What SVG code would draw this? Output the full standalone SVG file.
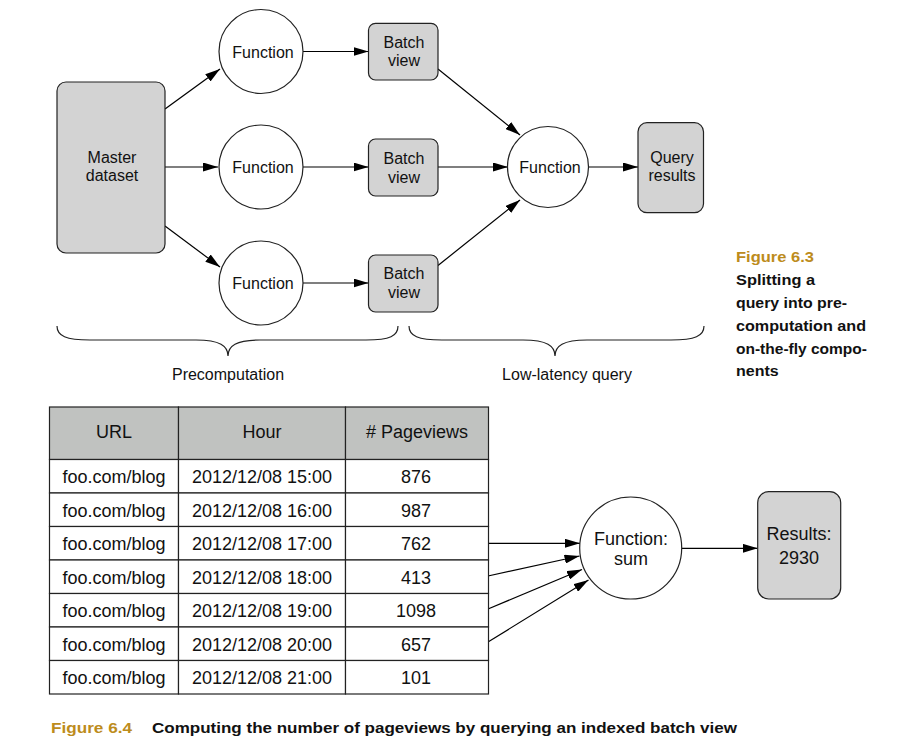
<svg xmlns="http://www.w3.org/2000/svg" width="912" height="751" viewBox="0 0 912 751">
<defs>
<marker id="arr" markerWidth="15" markerHeight="9" refX="15" refY="4.5" orient="auto" markerUnits="userSpaceOnUse">
<path d="M0,0 L15,4.5 L0,9 z" fill="#000"/>
</marker>
<style>
.box{fill:#d3d3d3;stroke:#222;stroke-width:1.2}
.circ{fill:#fff;stroke:#222;stroke-width:1.2}
.t{font-family:"Liberation Sans",Arial,sans-serif;font-size:16px;fill:#111;text-anchor:middle}
.t18{font-family:"Liberation Sans",Arial,sans-serif;font-size:18px;fill:#111;text-anchor:middle}
.edge{stroke:#000;stroke-width:1.2;fill:none;marker-end:url(#arr)}
.brace{stroke:#222;stroke-width:1.2;fill:none}
.cap{font-family:"Liberation Sans",Arial,sans-serif;font-size:15px;font-weight:bold;fill:#111}
.gold{fill:#bd8c1c}
.cell{fill:#fff;stroke:#222;stroke-width:1.2}
.hdr{fill:#c0c2c0;stroke:#222;stroke-width:1.2}
</style>
</defs>
<rect width="912" height="751" fill="#fff"/>

<g id="connectors">
<line class="edge" x1="165" y1="109" x2="220" y2="69"/>
<line class="edge" x1="165" y1="167" x2="218" y2="167"/>
<line class="edge" x1="165" y1="226" x2="220" y2="267"/>
<line class="edge" x1="303" y1="51.5" x2="368.5" y2="51.5"/>
<line class="edge" x1="302" y1="167" x2="368.5" y2="167"/>
<line class="edge" x1="303" y1="283" x2="368.5" y2="283"/>
<line class="edge" x1="438" y1="69" x2="520" y2="135"/>
<line class="edge" x1="438" y1="167" x2="508" y2="167"/>
<line class="edge" x1="438" y1="265.5" x2="520" y2="200"/>
<line class="edge" x1="588" y1="167" x2="638" y2="167"/>
<line class="edge" x1="488" y1="543.3" x2="580" y2="543.3"/>
<line class="edge" x1="488" y1="576" x2="579.5" y2="556"/>
<line class="edge" x1="488" y1="609" x2="582" y2="569.5"/>
<line class="edge" x1="488" y1="642" x2="588.5" y2="580"/>
<line class="edge" x1="681.5" y1="548.3" x2="757.7" y2="548.3"/>
</g>

<g id="master">
<rect class="box" x="57" y="82" width="108" height="171" rx="9"/>
<text class="t" x="112" y="163">Master</text>
<text class="t" x="112" y="181">dataset</text>
</g>

<g id="fn1"><circle class="circ" cx="261" cy="51.5" r="42"/><text class="t" x="263" y="57.5">Function</text></g>
<g id="fn2"><circle class="circ" cx="261" cy="167" r="42"/><text class="t" x="263" y="172.5">Function</text></g>
<g id="fn3"><circle class="circ" cx="261" cy="283" r="42"/><text class="t" x="263" y="289">Function</text></g>

<g id="bv1"><rect class="box" x="368.5" y="23.3" width="69.5" height="56.7" rx="7"/><text class="t" x="404" y="47.5">Batch</text><text class="t" x="404" y="65.5">view</text></g>
<g id="bv2"><rect class="box" x="368.5" y="139" width="69.5" height="57" rx="7"/><text class="t" x="404" y="164">Batch</text><text class="t" x="404" y="182.5">view</text></g>
<g id="bv3"><rect class="box" x="368.5" y="255" width="69.5" height="57" rx="7"/><text class="t" x="404" y="279">Batch</text><text class="t" x="404" y="297.5">view</text></g>

<g id="fnq"><circle class="circ" cx="548" cy="167" r="40.5"/><text class="t" x="550" y="172.5">Function</text></g>

<g id="query"><rect class="box" x="638" y="122.7" width="65.5" height="90" rx="9"/><text class="t" x="672" y="163">Query</text><text class="t" x="672" y="181">results</text></g>

<g id="braces">
<path class="brace" d="M57,326 C57,336 66,340 90,340 L196,340 C220,340 228,346 228,356 C228,346 236,340 260,340 L366,340 C390,340 398,336 398,326"/>
<path class="brace" d="M409,326 C409,336 418,340 442,340 L523,340 C547,340 555,346 555,356 C555,346 563,340 587,340 L671,340 C695,340 704,336 704,326"/>
<text class="t" x="228" y="380">Precomputation</text>
<text class="t" x="567" y="380">Low-latency query</text>
</g>

<g id="caption63">
<text class="cap gold" x="736" y="262" textLength="78" lengthAdjust="spacingAndGlyphs">Figure 6.3</text>
<text class="cap" x="736" y="285" textLength="79" lengthAdjust="spacingAndGlyphs">Splitting a</text>
<text class="cap" x="736" y="308" textLength="111" lengthAdjust="spacingAndGlyphs">query into pre-</text>
<text class="cap" x="736" y="331" textLength="130" lengthAdjust="spacingAndGlyphs">computation and</text>
<text class="cap" x="736" y="353.5" textLength="131" lengthAdjust="spacingAndGlyphs">on-the-fly compo-</text>
<text class="cap" x="736" y="376" textLength="42.7" lengthAdjust="spacingAndGlyphs">nents</text>
</g>

<g id="table">
<rect class="hdr" x="49.5" y="407" width="129" height="52.5"/>
<rect class="hdr" x="178.5" y="407" width="167" height="52.5"/>
<rect class="hdr" x="345.5" y="407" width="143" height="52.5"/>
<text class="t18" x="114" y="438">URL</text>
<text class="t18" x="262" y="438">Hour</text>
<text class="t18" x="417" y="438"># Pageviews</text>
<g id="rows">
<rect class="cell" x="49.5" y="459.5" width="129" height="33.5"/><rect class="cell" x="178.5" y="459.5" width="167" height="33.5"/><rect class="cell" x="345.5" y="459.5" width="143" height="33.5"/>
<rect class="cell" x="49.5" y="493" width="129" height="33.5"/><rect class="cell" x="178.5" y="493" width="167" height="33.5"/><rect class="cell" x="345.5" y="493" width="143" height="33.5"/>
<rect class="cell" x="49.5" y="526.5" width="129" height="33.5"/><rect class="cell" x="178.5" y="526.5" width="167" height="33.5"/><rect class="cell" x="345.5" y="526.5" width="143" height="33.5"/>
<rect class="cell" x="49.5" y="560" width="129" height="33.5"/><rect class="cell" x="178.5" y="560" width="167" height="33.5"/><rect class="cell" x="345.5" y="560" width="143" height="33.5"/>
<rect class="cell" x="49.5" y="593.5" width="129" height="33.5"/><rect class="cell" x="178.5" y="593.5" width="167" height="33.5"/><rect class="cell" x="345.5" y="593.5" width="143" height="33.5"/>
<rect class="cell" x="49.5" y="627" width="129" height="33.5"/><rect class="cell" x="178.5" y="627" width="167" height="33.5"/><rect class="cell" x="345.5" y="627" width="143" height="33.5"/>
<rect class="cell" x="49.5" y="660.5" width="129" height="33.5"/><rect class="cell" x="178.5" y="660.5" width="167" height="33.5"/><rect class="cell" x="345.5" y="660.5" width="143" height="33.5"/>
</g>
<g id="rowtext">
<text class="t18" x="114" y="483">foo.com/blog</text><text class="t18" x="262" y="483">2012/12/08 15:00</text><text class="t18" x="416" y="483">876</text>
<text class="t18" x="114" y="516.5">foo.com/blog</text><text class="t18" x="262" y="516.5">2012/12/08 16:00</text><text class="t18" x="416" y="516.5">987</text>
<text class="t18" x="114" y="550">foo.com/blog</text><text class="t18" x="262" y="550">2012/12/08 17:00</text><text class="t18" x="416" y="550">762</text>
<text class="t18" x="114" y="583.5">foo.com/blog</text><text class="t18" x="262" y="583.5">2012/12/08 18:00</text><text class="t18" x="416" y="583.5">413</text>
<text class="t18" x="114" y="617">foo.com/blog</text><text class="t18" x="262" y="617">2012/12/08 19:00</text><text class="t18" x="416" y="617">1098</text>
<text class="t18" x="114" y="650.5">foo.com/blog</text><text class="t18" x="262" y="650.5">2012/12/08 20:00</text><text class="t18" x="416" y="650.5">657</text>
<text class="t18" x="114" y="684">foo.com/blog</text><text class="t18" x="262" y="684">2012/12/08 21:00</text><text class="t18" x="416" y="684">101</text>
</g>
</g>

<g id="fnsum"><circle class="circ" cx="630.7" cy="548" r="51"/><text class="t18" x="631" y="545">Function:</text><text class="t18" x="631" y="565">sum</text></g>

<g id="results"><rect class="box" x="757.7" y="491.7" width="83" height="107.3" rx="11"/><text class="t18" x="799" y="540">Results:</text><text class="t18" x="799" y="563.5">2930</text></g>

<g id="caption64">
<text class="cap gold" x="51" y="732.5" textLength="81" lengthAdjust="spacingAndGlyphs">Figure 6.4</text>
<text class="cap" x="152" y="732.5" textLength="585" lengthAdjust="spacingAndGlyphs">Computing the number of pageviews by querying an indexed batch view</text>
</g>
</svg>
